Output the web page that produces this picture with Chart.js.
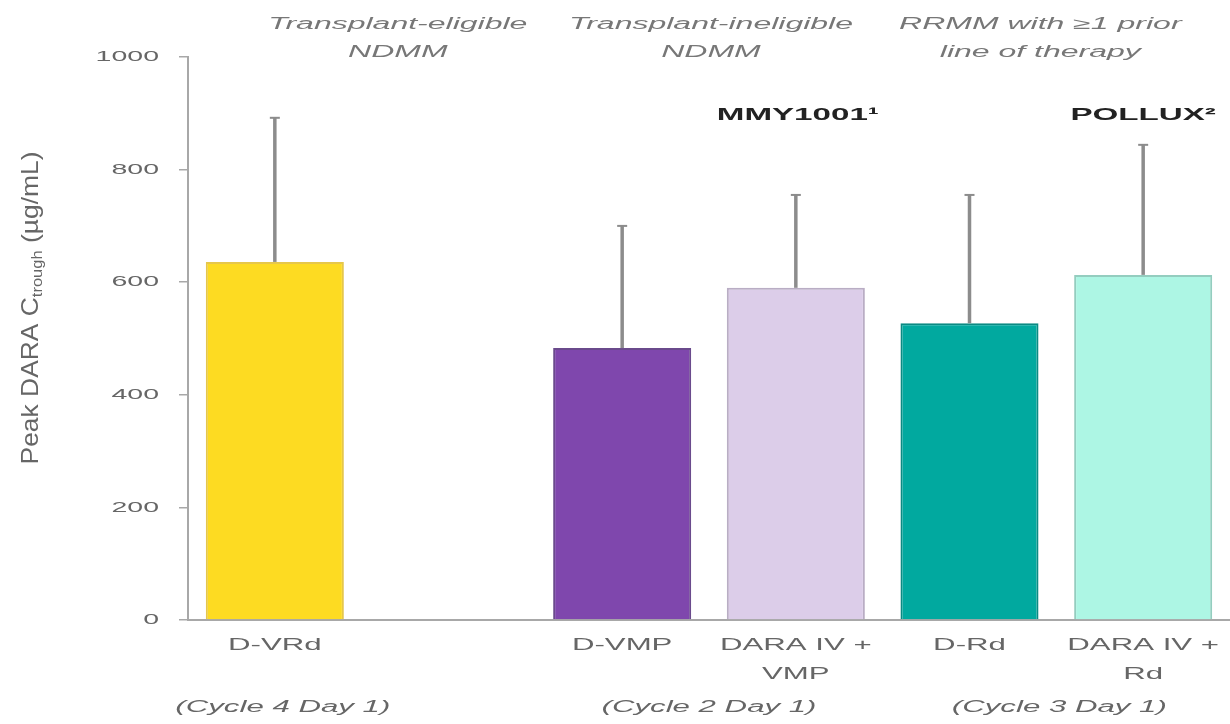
<!DOCTYPE html>
<html>
<head>
<meta charset="utf-8">
<script src="https://cdn.jsdelivr.net/npm/chart.js@4"></script>
<style>
  html, body { margin:0; padding:0; background:#fff; }
  #wrap { width:1230px; height:724px; }
</style>
</head>
<body>
<div id="wrap"><canvas id="chartCtrough" width="1230" height="724"></canvas></div>
<script>
/* Peak DARA Ctrough by regimen */

const categories = ["D-VRd", "", "D-VMP", ["DARA IV +", "VMP"], "D-Rd", ["DARA IV +", "Rd"]];
const meanValues = [636, null, 483, 590, 527, 613];
const upperValues = [892, null, 700, 755, 755, 844];
const yTicks = [0, 200, 400, 600, 800, 1000];

const barColors = ["#FDDB22", "#ffffff", "#7F47AD", "#DCCDE9", "#01A99F", "#ADF6E4"];
const barBorders = ["#e6c74a", "#ffffff", "#6a4a8c", "#b9adc4", "#0b8a83", "#94cdbf"];

const FONT = "'Liberation Sans', Arial, sans-serif";
const STRETCH = 1.95;

// text is wide in the source picture, so draw it stretched sideways
function wideText(ctx, text, x, y, font, align, sx) {
    ctx.save();
    ctx.translate(x, y);
    ctx.scale(sx || STRETCH, 1);
    ctx.font = font;
    ctx.textAlign = align || "center";
    ctx.textBaseline = "middle";
    ctx.fillText(text, 0, 0);
    ctx.restore();
}

const errorBars = {
    id: "errorBars",
    afterDatasetsDraw(chart) {
        const ctx = chart.ctx;
        const y = chart.scales.y;
        const meta = chart.getDatasetMeta(0);
        ctx.save();
        ctx.strokeStyle = "#8c8c8c";
        meta.data.forEach((bar, i) => {
            if (upperValues[i] == null) return;
            const top = y.getPixelForValue(upperValues[i]);
            const base = y.getPixelForValue(meanValues[i]);
            ctx.lineWidth = 3.5;
            ctx.beginPath();
            ctx.moveTo(bar.x, base);
            ctx.lineTo(bar.x, top);
            ctx.stroke();
            ctx.lineWidth = 2;
            ctx.beginPath();
            ctx.moveTo(bar.x - 5, top);
            ctx.lineTo(bar.x + 5, top);
            ctx.stroke();
        });
        ctx.restore();
    }
};

const annotations = {
    id: "annotations",
    afterDraw(chart) {
        const ctx = chart.ctx;
        const x = chart.scales.x;
        const y = chart.scales.y;
        const px = i => x.getPixelForValue(i);
        ctx.save();

        // y tick labels
        ctx.fillStyle = "#666";
        yTicks.forEach(v => {
            wideText(ctx, String(v), 159, y.getPixelForValue(v), "15px " + FONT, "right", 1.9);
        });

        // x category labels
        chart.data.labels.forEach((lab, i) => {
            const lines = Array.isArray(lab) ? lab : [lab];
            lines.forEach((t, k) => {
                wideText(ctx, t, px(i), 646 + k * 29, "16px " + FONT);
            });
        });

        // cycle labels
        ctx.fillStyle = "#666";
        const cyc = "italic 16px " + FONT;
        wideText(ctx, "(Cycle 4 Day 1)", px(0) + 8, 708, cyc);
        wideText(ctx, "(Cycle 2 Day 1)", (px(2) + px(3)) / 2, 708, cyc);
        wideText(ctx, "(Cycle 3 Day 1)", (px(4) + px(5)) / 2 + 3, 708, cyc);

        // group headers
        ctx.fillStyle = "#777";
        const hf = "italic 16px " + FONT;
        const headers = [
            [px(0) + 123, ["Transplant-eligible", "NDMM"]],
            [(px(2) + px(3)) / 2 + 2, ["Transplant-ineligible", "NDMM"]],
            [(px(4) + px(5)) / 2 - 16, ["RRMM with \u22651 prior", "line of therapy"]]
        ];
        headers.forEach(h => {
            wideText(ctx, h[1][0], h[0], 25, hf, "center", 2.0);
            wideText(ctx, h[1][1], h[0], 53, hf, "center", 2.0);
        });

        // study names
        ctx.fillStyle = "#222";
        const bf = "bold 17px " + FONT;
        wideText(ctx, "MMY1001\u00b9", px(3) + 2, 115, bf);
        wideText(ctx, "POLLUX\u00b2", px(5), 115, bf);

        // y axis title with subscript
        ctx.fillStyle = "#666";
        ctx.translate(31, 308);
        ctx.rotate(-Math.PI / 2);
        ctx.scale(1.1, 1);
        ctx.textAlign = "left";
        ctx.textBaseline = "middle";
        const a = "Peak DARA C", sub = "trough", b = " (\u00b5g/mL)";
        ctx.font = "24px " + FONT;
        const wa = ctx.measureText(a).width, wb = ctx.measureText(b).width;
        ctx.font = "15px " + FONT;
        const ws = ctx.measureText(sub).width;
        const start = -(wa + ws + wb) / 2;
        ctx.font = "24px " + FONT;
        ctx.fillText(a, start, 0);
        ctx.font = "15px " + FONT;
        ctx.fillText(sub, start + wa, 7);
        ctx.font = "24px " + FONT;
        ctx.fillText(b, start + wa + ws, 0);
        ctx.restore();
    }
};

new Chart(document.getElementById("chartCtrough").getContext("2d"), {
    type: "bar",
    data: {
        labels: categories,
        datasets: [{
            data: meanValues,
            backgroundColor: barColors,
            borderColor: barBorders,
            borderWidth: 2,
            barPercentage: 0.795,
            categoryPercentage: 1
        }]
    },
    options: {
        responsive: false,
        animation: false,
        layout: { padding: { top: 57, right: 0, left: 0, bottom: 0 } },
        plugins: {
            legend: { display: false },
            tooltip: { enabled: false }
        },
        scales: {
            y: {
                min: 0,
                max: 1000,
                afterBuildTicks: s => { s.ticks = yTicks.map(v => ({ value: v })); },
                afterFit: s => { s.width = 188; },
                border: { color: "#a8a8a8", width: 2 },
                grid: { drawOnChartArea: false, tickLength: 9, color: "#a8a8a8", lineWidth: 1.5 },
                ticks: { display: false }
            },
            x: {
                afterFit: s => { s.height = 104; },
                border: { color: "#a8a8a8", width: 2 },
                grid: { display: false },
                ticks: { display: false }
            }
        }
    },
    plugins: [errorBars, annotations]
});
</script>
</body>
</html>
